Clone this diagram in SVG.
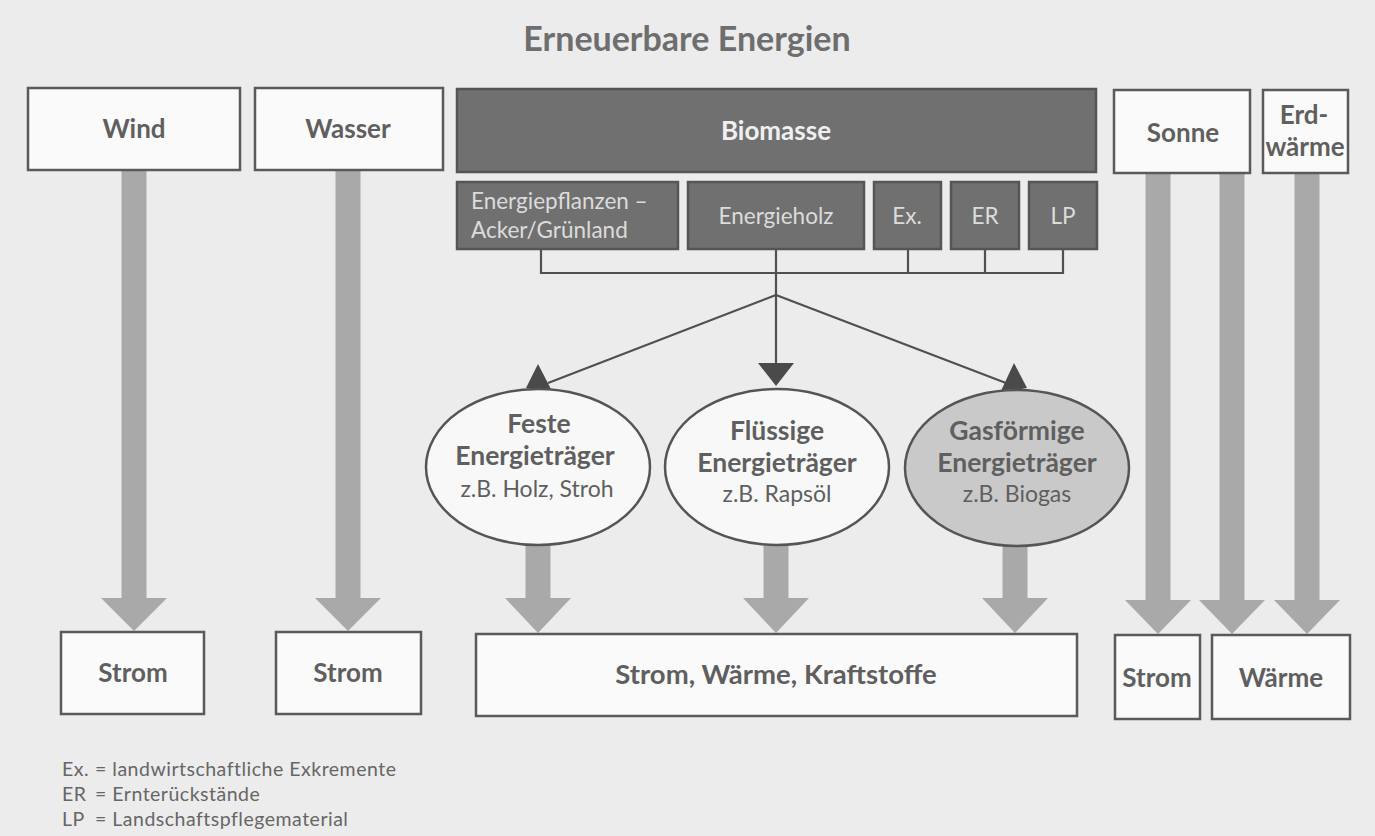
<svg xmlns="http://www.w3.org/2000/svg" width="1375" height="836" viewBox="0 0 1375 836">
<style>
.bg{fill:#ececec}
.box{fill:#fafafa;stroke:#5a5a5a;stroke-width:2.5}
.dbox{fill:#707070;stroke:#555;stroke-width:2.5}
.ell{fill:#f8f8f8;stroke:#555;stroke-width:2.5}
.gell{fill:#c9c9c9;stroke:#555;stroke-width:2.5}
.fat{fill:#a9a9a9}
.ln{stroke:#505050;stroke-width:2.2;fill:none}
.ah{fill:#4a4a4a}
text{font-family:Lato,"Noto Sans","Liberation Sans",sans-serif;fill:#5f5f5f;text-anchor:middle}
.b{font-weight:bold;font-size:26px}
.t{font-weight:bold;font-size:34px;fill:#6e6e6e}
.w{fill:#f0f0f0}
.s{font-size:22.5px;fill:#dcdcdc}
.e{font-weight:bold;font-size:26.5px}
.r{font-size:23px}
.lg{font-size:19.5px;text-anchor:start;fill:#666;letter-spacing:0.5px}
</style>
<rect class="bg" x="0" y="0" width="1375" height="836"/>
<text class="t" x="687" y="51">Erneuerbare Energien</text>

<g id="connectors">
<polygon class="fat" points="121.5,171 146.5,171 146.5,598 167,598 134,631 101,598 121.5,598"/>
<polygon class="fat" points="335.5,171 360.5,171 360.5,598 381,598 348,631 315,598 335.5,598"/>
<polygon class="fat" points="525.5,545 550.5,545 550.5,598 571,598 538,633 505,598 525.5,598"/>
<polygon class="fat" points="763.5,545 788.5,545 788.5,598 809,598 776,633 743,598 763.5,598"/>
<polygon class="fat" points="1002.5,545 1027.5,545 1027.5,598 1048,598 1015,633 982,598 1002.5,598"/>
<polygon class="fat" points="1145.5,173 1170.5,173 1170.5,600 1191,600 1158,634 1125,600 1145.5,600"/>
<polygon class="fat" points="1219.5,173 1244.5,173 1244.5,600 1265,600 1232,634 1199,600 1219.5,600"/>
<polygon class="fat" points="1294.5,173 1319.5,173 1319.5,600 1340,600 1307,634 1274,600 1294.5,600"/>
<path class="ln" d="M541,249 V273 H1063 V249 M908,249 V273 M985,249 V273 M776,249 V363"/>
<path class="ln" d="M776,295 L548,383 M776,295 L1006,383"/>
<polygon class="ah" points="538,364 526,388 553,393"/>
<polygon class="ah" points="758,363 794,363 776,386"/>
<polygon class="ah" points="1014,363 1000,393 1027,388"/>
</g>

<g id="wind"><rect class="box" x="28" y="88" width="212" height="82"/><text class="b" x="134" y="138">Wind</text></g>
<g id="wasser"><rect class="box" x="255" y="88" width="188" height="82"/><text class="b" x="348" y="138">Wasser</text></g>
<g id="biomasse"><rect class="dbox" x="457" y="89" width="639" height="83"/><text class="b w" x="776" y="140">Biomasse</text></g>
<g id="energiepflanzen"><rect class="dbox" x="457" y="182" width="221" height="67"/><text class="s" x="471" y="209" style="text-anchor:start">Energiepflanzen –</text><text class="s" x="471" y="238" style="text-anchor:start">Acker/Grünland</text></g>
<g id="energieholz"><rect class="dbox" x="688" y="182" width="176" height="67"/><text class="s" x="776" y="224">Energieholz</text></g>
<g id="ex"><rect class="dbox" x="874" y="182" width="67" height="67"/><text class="s" x="907" y="224">Ex.</text></g>
<g id="er"><rect class="dbox" x="951" y="182" width="68" height="67"/><text class="s" x="985" y="224">ER</text></g>
<g id="lp"><rect class="dbox" x="1029" y="182" width="68" height="67"/><text class="s" x="1063" y="224">LP</text></g>
<g id="sonne"><rect class="box" x="1114" y="90" width="136" height="83"/><text class="b" x="1183" y="142">Sonne</text></g>
<g id="erdwaerme"><rect class="box" x="1263" y="90" width="85" height="83"/><text class="b" x="1304" y="124">Erd-</text><text class="b" x="1305" y="156">wärme</text></g>

<g id="feste"><ellipse class="ell" cx="538" cy="467" rx="112" ry="78"/><text class="e" x="539" y="433">Feste</text><text class="e" x="535" y="465">Energieträger</text><text class="r" x="537" y="497">z.B. Holz, Stroh</text></g>
<g id="fluessige"><ellipse class="ell" cx="777" cy="467" rx="112" ry="78"/><text class="e" x="777" y="440">Flüssige</text><text class="e" x="777" y="472">Energieträger</text><text class="r" x="777" y="502">z.B. Rapsöl</text></g>
<g id="gasfoermige"><ellipse class="gell" cx="1017" cy="468" rx="112" ry="78"/><text class="e" x="1017" y="440">Gasförmige</text><text class="e" x="1017" y="472">Energieträger</text><text class="r" x="1017" y="502">z.B. Biogas</text></g>

<g id="strom1"><rect class="box" x="61" y="632" width="143" height="82"/><text class="b" x="133" y="682">Strom</text></g>
<g id="strom2"><rect class="box" x="276" y="632" width="145" height="82"/><text class="b" x="348" y="682">Strom</text></g>
<g id="strom_waerme_kraftstoffe"><rect class="box" x="476" y="634" width="601" height="82"/><text class="b" x="776" y="684" style="font-size:27.5px">Strom, Wärme, Kraftstoffe</text></g>
<g id="strom3"><rect class="box" x="1115" y="635" width="85" height="84"/><text class="b" x="1157" y="687">Strom</text></g>
<g id="waerme"><rect class="box" x="1212" y="635" width="138" height="84"/><text class="b" x="1281" y="687">Wärme</text></g>

<g id="legend">
<text class="lg" x="62" y="776">Ex.</text><text class="lg" x="95" y="776">= landwirtschaftliche Exkremente</text>
<text class="lg" x="62" y="801">ER</text><text class="lg" x="95" y="801">= Ernterückstände</text>
<text class="lg" x="62" y="826">LP</text><text class="lg" x="95" y="826">= Landschaftspflegematerial</text>
</g>
</svg>
